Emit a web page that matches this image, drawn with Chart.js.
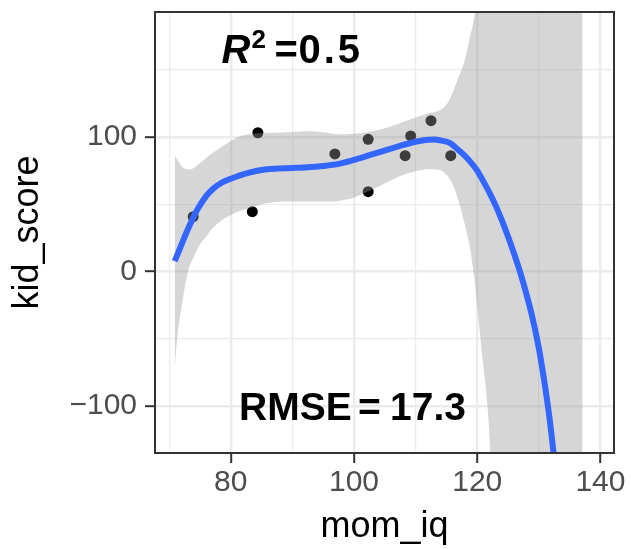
<!DOCTYPE html>
<html>
<head>
<meta charset="utf-8">
<script src="https://cdn.jsdelivr.net/npm/chart.js@4.4.1/dist/chart.umd.min.js"></script>
<style>
  body { margin: 0; background: #fff; }
  canvas { display: block; }
</style>
</head>
<body>
<canvas id="chart" width="631" height="549"></canvas>
<script>
// observed points
const momIq = [73.9, 84.4, 83.5, 96.9, 102.3, 102.3, 109.2, 108.3, 112.5, 115.7]
const kidScore = [40.8, 103.2, 44.5, 87.4, 98.3, 59.4, 100.8, 86.1, 112.2, 86.1]

// fitted curve
const fitX = [70.9, 72, 73, 74, 74.7, 76, 77, 78.5, 80, 81.5, 83, 85, 87, 90, 92.5, 95, 97.5, 100,
  102.5, 105, 107.5, 110, 112, 113, 114, 115.6, 116.9, 118, 119, 120, 121, 122, 123, 124, 125,
  126, 127, 128, 129, 130, 131, 131.5, 132, 132.5]
const fitY = [7.7, 20, 31, 41, 47, 56, 61, 66, 69, 71.5, 73.5, 75.5, 76.5, 77, 77.5, 78.5, 80, 83,
  86.5, 90, 93.5, 96.5, 98, 98.2, 97.5, 95.5, 90.5, 86, 81, 75, 67, 58.5, 49, 38, 26,
  13, -1, -17, -35, -57, -85, -101, -119, -140]

// confidence band
const bandX = [70.9, 71.2, 71.6, 72, 73, 74, 75, 76, 77, 78.5, 80, 81.5, 83, 85, 87, 90, 92.5, 95,
  97.5, 100, 102.5, 105, 107.5, 110, 112, 113.9, 115, 116, 117, 117.7, 118.3, 118.8, 119.6, 120.7,
  121.8, 122.1, 123, 137.1]
const bandHigh = [86, 84, 81, 78.5, 75.8, 77, 80.5, 84.5, 88, 92.5, 97, 100.6, 102, 103, 103.2,
  103.8, 104.3, 103.5, 102, 102.5, 104, 106.5, 110.5, 114.5, 117.5, 120, 124, 133, 145, 153, 163,
  174, 192, 250, 250, 250, 250, 250]
const bandLow = [-73, -55, -38, -27, -1, 11, 20, 26, 32, 38, 42, 45, 47, 50, 51.5, 52, 52, 52,
  52.5, 55, 60, 65.5, 71, 74.5, 76, 75.5, 72, 65, 52, 40, 29, 18, -8, -58,
  -108, -132, -200, -250]

const xTicks = [70, 80, 90, 100, 110, 120, 130, 140]
const yTicks = [-100, -50, 0, 50, 100, 150]

const pts = (xs, ys) => xs.map((x, i) => ({ x: x, y: ys[i] }))
const FONT = "'Liberation Sans', Arial, sans-serif"

const panelBorder = {
  id: 'panelBorder',
  afterDatasetsDraw(chart) {
    const { ctx, chartArea: a } = chart
    ctx.save()
    ctx.strokeStyle = '#333333'
    ctx.lineWidth = 2
    ctx.strokeRect(a.left, a.top, a.right - a.left, a.bottom - a.top)
    ctx.restore()
  }
}

const labels = {
  id: 'labels',
  afterDatasetsDraw(chart) {
    const { ctx, scales } = chart
    ctx.save()
    ctx.fillStyle = '#000'
    ctx.textAlign = 'left'
    ctx.textBaseline = 'alphabetic'
    // R^2 = 0.5
    let x = scales.x.getPixelForValue(90)
    let y = scales.y.getPixelForValue(165)
    ctx.font = `italic bold 40px ${FONT}`
    ctx.fillText('R', x - 71, y + 13.6)
    ctx.font = `bold 26px ${FONT}`
    ctx.fillText('2', x - 41, y - 2)
    ctx.font = `bold 40px ${FONT}`
    ctx.fillText('=', x - 18, y + 13.6)
    ctx.letterSpacing = '3px'
    ctx.fillText('0.5', x + 6, y + 13.6)
    ctx.letterSpacing = '0px'
    // RMSE = 17.3
    x = scales.x.getPixelForValue(100)
    y = scales.y.getPixelForValue(-100)
    ctx.font = `bold 39px ${FONT}`
    ctx.fillText('RMSE', x - 115, y + 14)
    ctx.fillText('=', x + 4, y + 14)
    ctx.fillText('17.3', x + 36, y + 14)
    ctx.restore()
  }
}

new Chart(document.getElementById('chart'), {
  type: 'scatter',
  data: {
    datasets: [
      {
        data: pts(fitX, fitY),
        showLine: true,
        borderColor: '#3366FF',
        borderWidth: 6,
        pointRadius: 0,
        cubicInterpolationMode: 'monotone',
        order: 1
      },
      {
        data: pts(bandX, bandHigh),
        showLine: true,
        borderWidth: 0,
        pointRadius: 0,
        cubicInterpolationMode: 'monotone',
        backgroundColor: 'rgba(153,153,153,0.4)',
        fill: '+1',
        order: 2
      },
      {
        data: pts(bandX, bandLow),
        showLine: true,
        borderWidth: 0,
        pointRadius: 0,
        cubicInterpolationMode: 'monotone',
        fill: false,
        order: 2
      },
      {
        data: pts(momIq, kidScore),
        backgroundColor: '#000',
        borderWidth: 0,
        pointRadius: 5.5,
        order: 3
      }
    ]
  },
  options: {
    responsive: false,
    animation: false,
    events: [],
    layout: { padding: { top: 12, right: 17, left: 0, bottom: 0 } },
    plugins: { legend: { display: false }, tooltip: { enabled: false } },
    scales: {
      x: {
        type: 'linear',
        min: 67.7,
        max: 142.2,
        afterBuildTicks: s => { s.ticks = xTicks.map(v => ({ value: v })) },
        afterFit: s => { s.height = 96; s.paddingLeft = 0; s.paddingRight = 0 },
        border: { display: false },
        grid: {
          color: '#ebebeb',
          lineWidth: c => c.tick && c.tick.value % 20 === 0 ? 2.4 : 1.2,
          tickColor: c => c.tick && c.tick.value % 20 === 0 ? '#333333' : 'rgba(0,0,0,0)',
          tickLength: 10,
          tickWidth: 2
        },
        ticks: {
          autoSkip: false,
          maxRotation: 0,
          padding: 2,
          color: '#4d4d4d',
          font: { family: FONT, size: 30 },
          callback: v => v % 20 === 0 ? String(v) : ''
        },
        title: {
          display: true,
          text: 'mom_iq',
          color: '#000',
          font: { family: FONT, size: 36 },
          padding: { top: 0, bottom: 0 }
        }
      },
      y: {
        type: 'linear',
        min: -135,
        max: 193,
        afterBuildTicks: s => { s.ticks = yTicks.map(v => ({ value: v })) },
        afterFit: s => { s.width = 155; s.paddingTop = 0; s.paddingBottom = 0 },
        border: { display: false },
        grid: {
          color: '#ebebeb',
          lineWidth: c => c.tick && c.tick.value % 100 === 0 ? 2.4 : 1.2,
          tickColor: c => c.tick && c.tick.value % 100 === 0 ? '#333333' : 'rgba(0,0,0,0)',
          tickLength: 10,
          tickWidth: 2
        },
        ticks: {
          autoSkip: false,
          padding: 8,
          color: '#4d4d4d',
          font: { family: FONT, size: 30 },
          callback: v => v % 100 === 0 ? String(v).replace('-', '\u2212') : ''
        },
        title: {
          display: true,
          text: 'kid_score',
          color: '#000',
          font: { family: FONT, size: 36 },
          padding: { top: 6, bottom: 0 }
        }
      }
    }
  },
  plugins: [panelBorder, labels]
})
</script>
</body>
</html>
